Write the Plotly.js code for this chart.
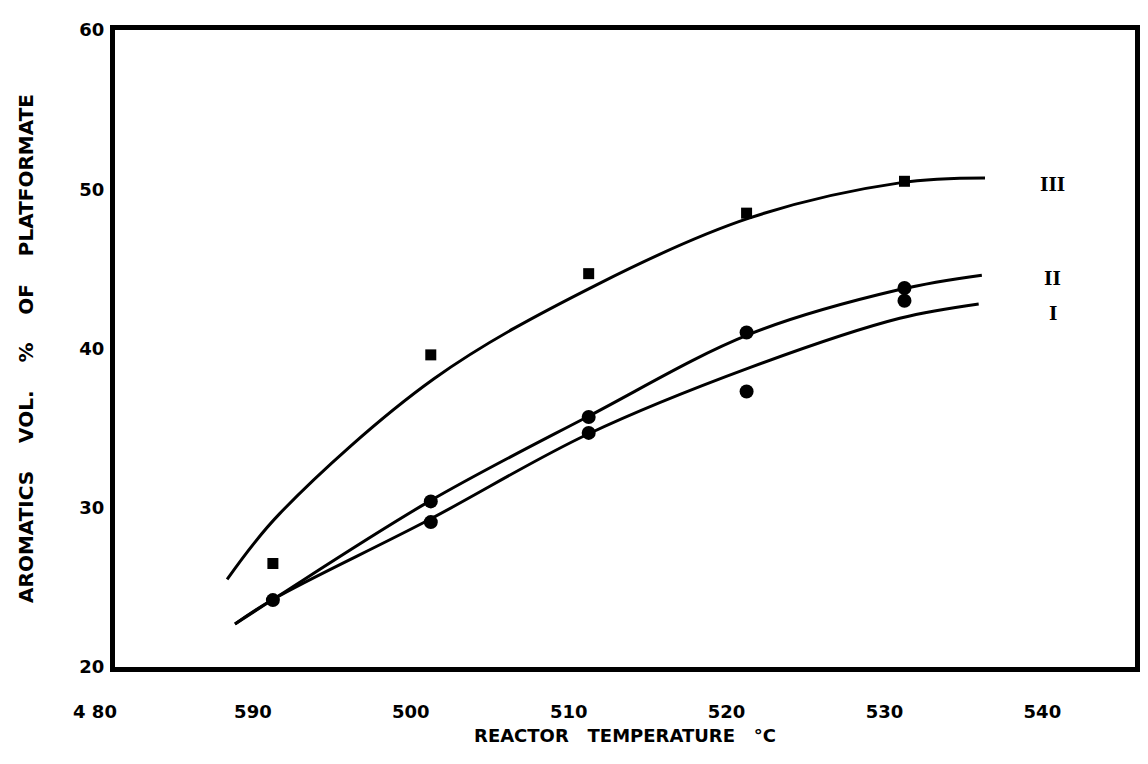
<!DOCTYPE html>
<html>
<head>
<meta charset="utf-8">
<script src="https://cdn.plot.ly/plotly-3.0.1.min.js"></script>
<style>html,body{margin:0;padding:0;background:#fff}#chart{width:1148px;height:764px}</style>
</head>
<body>
<div id="chart"></div>
<script>
// Fitted curves
const curveIII_x = [487.1, 490.4, 500.2, 510.5, 520.2, 529.7, 535.1];
const curveIII_y = [25.5, 29.6, 38.1, 44.0, 48.2, 50.4, 50.7];
const curveII_x = [487.6, 490.1, 499.9, 509.9, 520.2, 529.7, 534.9];
const curveII_y = [22.7, 24.3, 30.4, 35.7, 40.9, 43.7, 44.6];
const curveI_x = [487.6, 490.1, 499.8, 509.9, 520.2, 529.7, 534.7];
const curveI_y = [22.7, 24.3, 29.2, 34.6, 38.8, 41.9, 42.8];

// Measured points
const ptsIII_x = [490, 500, 510, 520, 530];
const ptsIII_y = [26.5, 39.6, 44.7, 48.5, 50.5];
const ptsII_x = [490, 500, 510, 520, 530];
const ptsII_y = [24.2, 30.4, 35.7, 41.0, 43.8];
const ptsI_x = [500, 510, 520, 530];
const ptsI_y = [29.1, 34.7, 37.3, 43.0];

// Tick labels
const xTickVals = [480, 490, 500, 510, 520, 530, 540];
const xTickText = ["4 80", "590", "500", "510", "520", "530", "540"];
const yTickVals = [20, 30, 40, 50, 60];
const yTickText = ["20", "30", "40", "50", "60"];

// Curve labels
const curveLabels = ["III", "II", "I"];
const curveLabelY = [50.3, 44.4, 42.2];
const curveLabelX = 539.4;

const lineStyle = {color: "#000", width: 3, shape: "spline", smoothing: 1};
const traces = [
  {x: curveIII_x, y: curveIII_y, mode: "lines", line: lineStyle, hoverinfo: "skip"},
  {x: curveII_x, y: curveII_y, mode: "lines", line: lineStyle, hoverinfo: "skip"},
  {x: curveI_x, y: curveI_y, mode: "lines", line: lineStyle, hoverinfo: "skip"},
  {x: ptsIII_x, y: ptsIII_y, mode: "markers", marker: {symbol: "square", size: 11, color: "#000"}},
  {x: ptsII_x, y: ptsII_y, mode: "markers", marker: {symbol: "circle", size: 14, color: "#000"}},
  {x: ptsI_x, y: ptsI_y, mode: "markers", marker: {symbol: "circle", size: 14, color: "#000"}}
];

const tickFont = {family: "DejaVu Sans", size: 18, color: "#000", weight: "bold"};
const layout = {
  width: 1148, height: 764,
  margin: {l: 115, r: 13, t: 30, b: 97},
  paper_bgcolor: "#fff", plot_bgcolor: "#fff",
  showlegend: false,
  xaxis: {
    range: [480, 544.6], tickvals: xTickVals, ticktext: xTickText,
    showgrid: false, zeroline: false, showline: true, mirror: true,
    linecolor: "#000", linewidth: 5, ticks: "",
    tickfont: tickFont, ticklabelshift: -20, ticklabelstandoff: 24,
    title: {text: "REACTOR   TEMPERATURE   °C", font: {family: "DejaVu Sans", size: 18, color: "#000", weight: "bold"}, standoff: 10}
  },
  yaxis: {
    range: [20, 60], tickvals: yTickVals, ticktext: yTickText,
    showgrid: false, zeroline: false, showline: true, mirror: true,
    linecolor: "#000", linewidth: 5, ticks: "",
    tickfont: tickFont, ticklabelstandoff: 2,
    title: {text: "AROMATICS    VOL.    %    OF    PLATFORMATE", font: {family: "DejaVu Sans", size: 20, color: "#000", weight: "bold"}, standoff: 42}
  },
  annotations: curveLabels.map((t, i) => ({
    x: curveLabelX, y: curveLabelY[i], xref: "x", yref: "y", text: t, showarrow: false,
    font: {family: "DejaVu Serif", size: 18, color: "#000", weight: "bold"}
  }))
};
Plotly.newPlot("chart", traces, layout, {displayModeBar: false, staticPlot: true});
</script>
</body>
</html>
